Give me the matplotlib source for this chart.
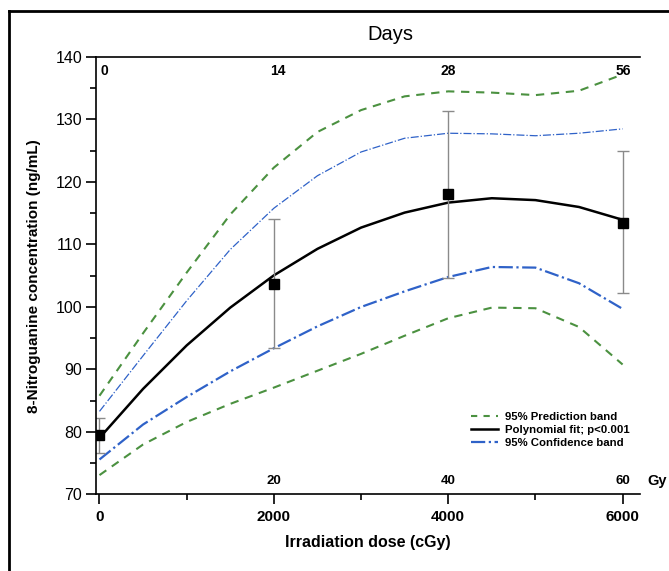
# -*- coding: utf-8 -*-
import matplotlib.pyplot as plt
from matplotlib.lines import Line2D
from matplotlib.ticker import MultipleLocator

plt.rcParams['font.family'] = ['Liberation Sans', 'DejaVu Sans']

# medidas (dose em cGy, média e barras de erro)
dose = [0, 2000, 4000, 6000]
media = [79.5, 103.7, 118.05, 113.5]
erro_sup = [82.2, 114.0, 131.4, 124.9]
erro_inf = [76.7, 93.4, 104.7, 102.2]

# curvas do ajuste e bandas
xc = [0, 500, 1000, 1500, 2000, 2500, 3000, 3500, 4000, 4500, 5000, 5500, 6000]
ajuste = [79.05, 86.9, 93.85, 99.9, 105.06, 109.3, 112.7, 115.1, 116.7, 117.4, 117.1, 116.0, 113.95]
conf_sup = [83.3, 92.2, 101.0, 109.2, 115.8, 121.0, 124.8, 127.0, 127.8, 127.7, 127.4, 127.8, 128.5]
conf_inf = [75.6, 81.2, 85.6, 89.7, 93.4, 96.9, 100.0, 102.5, 104.8, 106.4, 106.3, 103.8, 99.7]
pred_sup = [85.8, 95.8, 105.5, 114.8, 122.3, 128.0, 131.5, 133.7, 134.5, 134.3, 133.9, 134.6, 137.2]
pred_inf = [73.1, 78.0, 81.6, 84.5, 87.1, 89.8, 92.5, 95.4, 98.2, 99.9, 99.8, 96.8, 90.8]

# eixos secundários (dias no topo, Gy embaixo)
dias = ['0', '14', '28', '56']
dias_x = [54, 2041, 4000, 6010]
gy = ['20', '40', '60']
gy_x = [2000, 4000, 6000]

verde = '#4b9140'
azul = '#2f62c8'

fig = plt.figure(figsize=(6.69, 5.71), dpi=100)
ax = fig.add_axes([0.1435, 0.134, 0.8132, 0.7662])

ax.plot(xc, pred_sup, '--', color=verde, lw=1.5, dashes=(4, 3.2))
ax.plot(xc, conf_sup, '-.', color=azul, lw=0.9)
ax.plot(xc, ajuste, '-', color='black', lw=1.8)
ax.plot(xc, conf_inf, '-.', color=azul, lw=1.6)
ax.plot(xc, pred_inf, '--', color=verde, lw=1.5, dashes=(4, 3.2))

yerr = [[m - i for m, i in zip(media, erro_inf)], [s - m for m, s in zip(media, erro_sup)]]
ax.errorbar(dose, media, yerr=yerr, fmt='none', ecolor='#8a8a8a', elinewidth=1, capsize=4, capthick=1)
ax.plot(dose, media, 's', color='black', markersize=7.5, zorder=5)

ax.set_xlim(-40, 6200)
ax.set_ylim(70, 140)
ax.set_xticks([0, 2000, 4000, 6000])
ax.xaxis.set_minor_locator(MultipleLocator(1000))
ax.yaxis.set_major_locator(MultipleLocator(10))
ax.yaxis.set_minor_locator(MultipleLocator(5))
ax.tick_params(axis='both', which='major', direction='out', length=7, width=1.2)
ax.tick_params(axis='both', which='minor', direction='out', length=4, width=1.2)
ax.tick_params(axis='y', labelsize=11.5, pad=3)
ax.tick_params(axis='x', labelsize=11, pad=4)
for t in ax.get_xticklabels():
    t.set_fontweight('bold')
ax.spines['right'].set_visible(False)
for s in ['left', 'bottom', 'top']:
    ax.spines[s].set_linewidth(1.2)

ax.set_xlabel('Irradiation dose (cGy)', fontsize=11.5, fontweight='bold', labelpad=8)
ax.set_ylabel('8-Nitroguanine concentration (ng/mL)', fontsize=11, fontweight='bold', labelpad=10)

for t, x in zip(dias, dias_x):
    ax.text(x, 137.8, t, fontsize=10, fontweight='bold', ha='center', va='center')
for t, x in zip(gy, gy_x):
    ax.text(x, 72.1, t, fontsize=9.5, fontweight='bold', ha='center', va='center')
ax.text(6400, 72.1, 'Gy', fontsize=10.5, fontweight='bold', ha='center', va='center', clip_on=False)

fig.text(390 / 669, 1 - 35 / 571, 'Days', fontsize=14.5, ha='center', va='center')

leg = [Line2D([], [], color=verde, ls='--', lw=1.5, dashes=(3, 3)),
       Line2D([], [], color='black', lw=1.8),
       Line2D([], [], color=azul, ls='-.', lw=1.6)]
ax.legend(leg, ['95% Prediction band', 'Polynomial fit; p<0.001', '95% Confidence band'],
          loc='lower right', bbox_to_anchor=(1.0, 0.082), frameon=False,
          prop={'size': 8.2, 'weight': 'bold'}, handlelength=2.4, labelspacing=0.3,
          handletextpad=0.6)

# moldura da figura
fig.add_artist(Line2D([9 / 669, 9 / 669], [0, 1 - 11 / 571], color='black', lw=2))
fig.add_artist(Line2D([9 / 669, 1], [1 - 11 / 571, 1 - 11 / 571], color='black', lw=2))

plt.savefig('out.png', dpi=100)
